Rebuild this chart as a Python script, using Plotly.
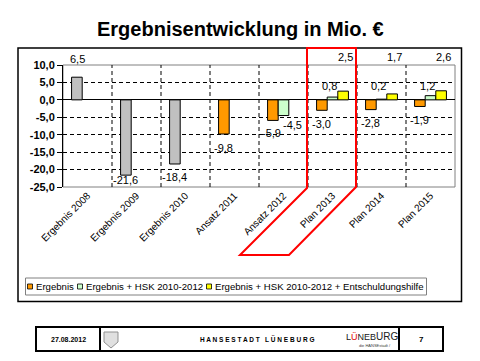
import plotly.graph_objects as go

# ---------------- data ----------------
categories = ["Ergebnis 2008", "Ergebnis 2009", "Ergebnis 2010", "Ansatz 2011",
              "Ansatz 2012", "Plan 2013", "Plan 2014", "Plan 2015"]
ergebnis = [6.5, -21.6, -18.4, -9.8, -5.9, -3.0, -2.8, -1.9]
hsk = [None, None, None, None, -4.5, 0.8, 0.2, 1.2]
entschuldung = [None, None, None, None, None, 2.5, 1.7, 2.6]
series_names = ["Ergebnis", "Ergebnis + HSK 2010-2012",
                "Ergebnis + HSK 2010-2012 + Entschuldungshilfe"]
y_ticks = [10, 5, 0, -5, -10, -15, -20, -25]
footer_date = "27.08.2012"
footer_page = "7"

# ---------------- styles ----------------
W, H = 480, 361
FONT = "Liberation Sans, Arial, sans-serif"
GREY = "#C0C0C0"
ORANGE = "#FF9900"
GREEN = "#CCFFCC"
YELLOW = "#FFFF00"
DASH = "4px,3px"
n_grey = 3  # first three results shown in grey

def px(x):
    return x / W

def py(y):
    return 1 - y / H

PLOT_L, PLOT_R, PLOT_T, PLOT_B = 63, 455, 65, 187
cat_w = (PLOT_R - PLOT_L) / len(categories)
bargap = 0.35
bar_w = cat_w * (1 - bargap) / 3
slot_off = [-bar_w, 0, bar_w]

fig = go.Figure()
erg_colors = [GREY if i < n_grey else ORANGE for i in range(len(ergebnis))]
for vals, name, col in [(ergebnis, series_names[0], erg_colors),
                        (hsk, series_names[1], GREEN),
                        (entschuldung, series_names[2], YELLOW)]:
    fig.add_trace(go.Bar(x=list(range(len(categories))), y=vals, name=name,
                         marker=dict(color=col, line=dict(color="black", width=1)),
                         showlegend=False, hoverinfo="skip"))

# ---------------- data labels ----------------
def fmt(v):
    return f"{v:.1f}".replace(".", ",")

pos_row = {0: 59, 1: 86, 2: 57}         # pixel row of positive labels
pos_dx = {0: 1, 1: -3.5, 2: 2.5}
overrides = {(0, 1): (0, -5), (1, 4): (9, -9.5), (0, 4): (-1, -13)}
annotations = []
for s, vals in enumerate([ergebnis, hsk, entschuldung]):
    for i, v in enumerate(vals):
        if v is None:
            continue
        if v < 0:
            dx, dy = overrides.get((s, i), (0, -13.5))
            annotations.append(dict(x=i, y=v, xref="x", yref="y", text=fmt(v),
                                    xshift=slot_off[s] + dx, yshift=dy,
                                    showarrow=False, xanchor="center", yanchor="middle",
                                    font=dict(family=FONT, size=11, color="black")))
        else:
            annotations.append(dict(x=i, y=py(pos_row[s]), xref="x", yref="paper", text=fmt(v),
                                    xshift=slot_off[s] + pos_dx[s],
                                    showarrow=False, xanchor="center", yanchor="middle",
                                    font=dict(family=FONT, size=11, color="black")))

# title
annotations.append(dict(x=px(240), y=py(29), xref="paper", yref="paper",
                        text="<b>Ergebnisentwicklung in Mio. €</b>", showarrow=False,
                        xanchor="center", yanchor="middle",
                        font=dict(family=FONT, size=20, color="black")))

# ---------------- manual legend ----------------
leg_y = 286.5
leg_items = [(27.5, ORANGE, series_names[0]), (77.5, GREEN, series_names[1]),
             (206.5, YELLOW, series_names[2])]
shapes = []
for x0, col, name in leg_items:
    shapes.append(dict(type="rect", xref="paper", yref="paper",
                       x0=px(x0), x1=px(x0 + 5), y0=py(leg_y + 2.5), y1=py(leg_y - 2.5),
                       fillcolor=col, line=dict(color="black", width=0.8)))
    annotations.append(dict(x=px(x0 + 6), y=py(leg_y), xref="paper", yref="paper",
                            text=name, showarrow=False, xanchor="left", yanchor="middle",
                            font=dict(family=FONT, size=9.6, color="black")))
shapes.append(dict(type="rect", xref="paper", yref="paper",
                   x0=px(25.5), x1=px(426.5), y0=py(295), y1=py(278),
                   line=dict(color="#808080", width=1)))

# outer chart border
shapes.append(dict(type="rect", xref="paper", yref="paper",
                   x0=px(18), x1=px(461.5), y0=py(301.5), y1=py(48),
                   line=dict(color="black", width=1.5)))
# plot area border
shapes.append(dict(type="rect", xref="paper", yref="paper", layer="between",
                   x0=px(PLOT_L), x1=px(PLOT_R), y0=py(PLOT_B), y1=py(PLOT_T),
                   line=dict(color="#808080", width=1)))
# red highlight outline
pts = [(307, 48), (356, 48), (356, 187), (289, 255), (240, 255), (307, 188)]
path = "M " + " L ".join(f"{px(a):.5f},{py(b):.5f}" for a, b in pts) + " Z"
shapes.append(dict(type="path", xref="paper", yref="paper", path=path,
                   line=dict(color="#FF0000", width=2)))

# ---------------- footer ----------------
shapes.append(dict(type="rect", xref="paper", yref="paper",
                   x0=px(36), x1=px(443), y0=py(351), y1=py(327),
                   line=dict(color="black", width=2)))
for xv in (100, 399):
    shapes.append(dict(type="line", xref="paper", yref="paper",
                       x0=px(xv), x1=px(xv), y0=py(351), y1=py(327),
                       line=dict(color="black", width=2)))
shield = [(104, 332), (118, 332), (118, 342), (111, 348), (104, 342)]
shapes.append(dict(type="path", xref="paper", yref="paper",
                   path="M " + " L ".join(f"{px(a):.5f},{py(b):.5f}" for a, b in shield) + " Z",
                   fillcolor="#E0E0E0", line=dict(color="#909090", width=1)))

def foot(x, y, text, size, color="black"):
    return dict(x=px(x), y=py(y), xref="paper", yref="paper", text=text,
                showarrow=False, xanchor="center", yanchor="middle",
                font=dict(family=FONT, size=size, color=color))

annotations += [
    foot(68, 339, f"<b>{footer_date}</b>", 7),
    foot(257, 339, "<b>H A N S E S T A D T   L Ü N E B U R G</b>", 6.5),
    foot(372, 336, "L<span style='color:#E00000'>Ü</span>NEB<span style='font-size:10px'>URG</span>", 9, "#202020"),
    foot(375, 345, "die HANSEstadt /", 4, "#404040"),
    foot(421, 339, f"<b>{footer_page}</b>", 8),
]

fig.update_layout(
    width=W, height=H, margin=dict(l=0, r=0, t=0, b=0, pad=0, autoexpand=False),
    paper_bgcolor="white", plot_bgcolor="white",
    barmode="group", bargap=bargap, bargroupgap=0,
    separators=",.",
    showlegend=False,
    annotations=annotations, shapes=shapes,
    xaxis=dict(domain=[px(PLOT_L), px(PLOT_R)], range=[-0.5, len(categories) - 0.5],
               automargin=False,
               tickmode="array", tickvals=list(range(len(categories))), ticktext=categories,
               tickangle=-45, tickfont=dict(family=FONT, size=10, color="black"),
               showgrid=False, zeroline=False, showline=False, ticks=""),
    yaxis=dict(domain=[py(PLOT_B), py(PLOT_T)], range=[-25, 10],
               automargin=False,
               tickmode="array", tickvals=y_ticks, ticktext=[f"<b>{fmt(v)}</b>" for v in y_ticks],
               tickfont=dict(family=FONT, size=11, color="black"),
               showgrid=True, gridcolor="black", griddash=DASH, gridwidth=1,
               zeroline=True, zerolinecolor="black", zerolinewidth=1,
               showline=True, linecolor="black", linewidth=1,
               ticks="outside", ticklen=5, tickcolor="black", tickwidth=1),
)

# vertical dashed gridlines at category boundaries
for k in range(1, len(categories)):
    fig.add_shape(type="line", xref="x", yref="paper", layer="between",
                  x0=k - 0.5, x1=k - 0.5, y0=py(PLOT_B), y1=py(PLOT_T),
                  line=dict(color="black", width=1, dash=DASH))

fig.write_html("out.html", config={"displayModeBar": False},
               post_script="document.body.style.margin='0px';"
                           "document.body.style.overflow='hidden';")
